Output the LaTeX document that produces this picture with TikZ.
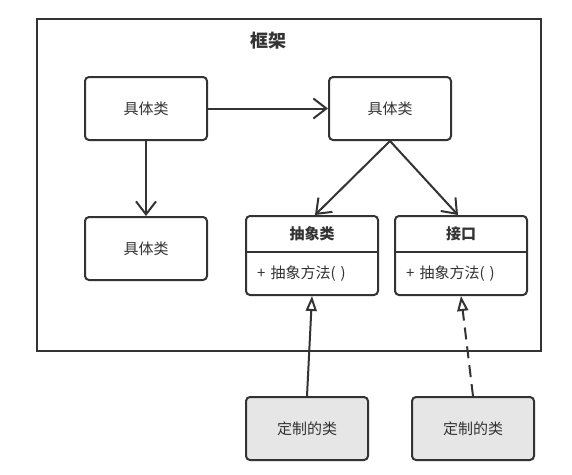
\documentclass[tikz,border=0pt]{standalone}
\usepackage{fontspec}
\setmainfont{Noto Sans CJK SC}
\usetikzlibrary{arrows.meta,calc}
\definecolor{ink}{HTML}{333333}
\definecolor{custfill}{HTML}{E6E6E6}
\begin{document}
\begin{tikzpicture}[x=1pt,y=-1pt,
  every node/.style={text=ink, font=\fontsize{15}{17}\selectfont, inner sep=0pt},
  clsbox/.style={draw=ink, line width=2pt, rounded corners=4pt, fill=white, minimum width=122pt, minimum height=63pt},
  umlbox/.style={clsbox, minimum width=132pt, minimum height=79pt},
  custbox/.style={clsbox, fill=custfill},
  conn/.style={draw=ink, line width=2pt, -{Straight Barb[length=13pt,width=20pt,line width=2pt]}},
  inh/.style={draw=ink, line width=2pt, -{Triangle[open,length=15pt,width=11pt,line width=2pt,fill=white]}},
  impl/.style={inh, dash pattern=on 12pt off 7pt}
]
\useasboundingbox (0,0) rectangle (572,474);
% frame
\node[draw=ink, line width=2pt, minimum width=504pt, minimum height=332pt] (frame) at (289,185) {};
\node[font=\fontsize{18}{20}\selectfont\bfseries] (title) at (268,41) {框架};
% concrete classes
\node[clsbox] (b1) at (146,108.5) {具体类};
\node[clsbox] (b2) at (390,108.5) {具体类};
\node[clsbox] (b3) at (146,248.5) {具体类};
% abstract class
\node[umlbox] (abs) at (312,255.5) {};
\node[font=\fontsize{15}{17}\selectfont\bfseries] (absT) at (312,234) {抽象类};
\coordinate (divA) at (312,252);
\draw[ink, line width=2pt] (abs.west |- divA) -- (abs.east |- divA);
\node[anchor=west] (absM) at (257,274) {+\hspace{5pt}抽象方法(\hspace{5pt})};
% interface
\node[umlbox] (ifc) at (461,255.5) {};
\node[font=\fontsize{15}{17}\selectfont\bfseries] (ifcT) at (461,234) {接口};
\coordinate (divI) at (461,252);
\draw[ink, line width=2pt] (ifc.west |- divI) -- (ifc.east |- divI);
\node[anchor=west] (ifcM) at (406,274) {+\hspace{5pt}抽象方法(\hspace{5pt})};
% custom classes
\node[custbox] (c1) at (307,428.5) {定制的类};
\node[custbox] (c2) at (473,428.5) {定制的类};
% connectors
\draw[conn] (b1.east) -- (b2.west);
\draw[conn] (b1.south) -- (b3.north);
\draw[conn] (b2.south) -- ($(abs.north)+(3,0)$);
\draw[conn] (b2.south) -- ($(ifc.north)+(-3,0)$);
\draw[inh] (c1.north) -- (abs.south);
\draw[impl] (c2.north) -- (ifc.south);
\end{tikzpicture}
\end{document}
